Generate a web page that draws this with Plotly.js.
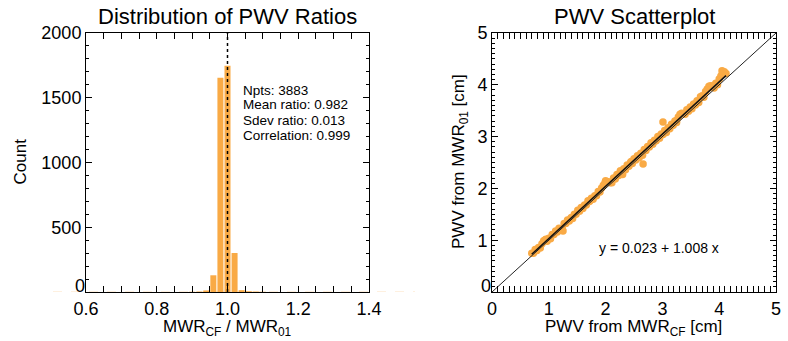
<!DOCTYPE html>
<html>
<head>
<meta charset="utf-8">
<script src="https://cdn.plot.ly/plotly-3.0.1.min.js"></script>
<style>html,body{margin:0;padding:0;background:#fff;}#chart{width:788px;height:341px;}</style>
</head>
<body>
<div id="chart"></div>
<script>
// Histogram of PWV ratios (bin centres and counts)
const ratioBins = [0.90, 0.92, 0.94, 0.96, 0.98, 1.00, 1.02, 1.04, 1.06, 1.08, 1.10];
const ratioCounts = [2, 3, 12, 129, 1654, 1747, 301, 14, 6, 3, 2];
const statsLines = ["Npts: 3883", "Mean ratio: 0.982", "Sdev ratio: 0.013", "Correlation: 0.999"];
const meanLineAt = 1.0;
const countTicks = [0, 500, 1000, 1500, 2000];
const pwvTicks = [0, 1, 2, 3, 4, 5];

// Scatter of PWV values [cm]
const pwvCF = [0.70,0.73,0.76,0.79,0.82,0.85,0.88,0.91,0.94,0.97,1.00,1.03,1.06,1.09,1.12,1.15,1.18,1.21,1.24,1.27,
  1.30,1.33,1.36,1.39,1.42,1.45,1.48,1.51,1.54,1.57,1.60,1.63,1.66,1.69,1.72,1.75,1.78,1.81,1.84,1.87,
  1.90,1.93,1.96,1.99,2.02,2.05,2.08,2.11,2.14,2.17,2.20,2.23,2.26,2.29,2.32,2.35,2.38,2.41,2.44,2.47,
  2.50,2.53,2.56,2.59,2.62,2.65,2.68,2.71,2.74,2.77,2.80,2.83,2.86,2.89,2.92,2.95,2.98,3.01,3.04,3.07,
  3.10,3.13,3.16,3.19,3.22,3.25,3.28,3.31,3.34,3.37,3.40,3.43,3.46,3.49,3.52,3.55,3.58,3.61,3.64,3.67,
  3.70,3.73,3.76,3.79,3.82,3.85,3.88,3.91,3.94,3.97,4.00,4.03,4.06,4.09,4.12,
  3.01,2.66,2.00,1.25,4.05,2.30,0.95,1.70,2.45,3.55,0.78,1.40,2.85,3.25,3.90];
const pwvMWR01 = [0.75,0.75,0.82,0.80,0.86,0.85,0.93,0.99,1.01,0.98,1.04,1.03,1.11,1.11,1.18,1.16,1.23,1.20,1.21,1.32,
  1.32,1.39,1.37,1.43,1.42,1.50,1.50,1.58,1.56,1.63,1.61,1.68,1.68,1.76,1.75,1.81,1.79,1.86,1.86,1.94,
  1.93,2.01,2.06,2.11,2.13,2.13,2.11,2.11,2.20,2.18,2.27,2.25,2.34,2.32,2.38,2.36,2.45,2.43,2.50,2.48,
  2.57,2.55,2.63,2.59,2.68,2.64,2.75,2.73,2.81,2.80,2.88,2.85,2.93,2.92,3.00,2.97,3.05,3.04,3.12,3.08,
  3.17,3.15,3.24,3.22,3.30,3.27,3.38,3.43,3.45,3.44,3.43,3.52,3.49,3.57,3.54,3.62,3.61,3.69,3.66,3.77,
  3.79,3.76,3.87,3.92,3.97,3.98,3.96,3.94,4.03,4.00,4.11,4.17,4.24,4.25,4.22,
  3.28,2.47,2.15,1.18,4.27,2.27,1.02,1.74,2.52,3.63,0.80,1.44,2.90,3.31,3.98];
const fitIntercept = 0.023;
const fitSlope = 1.008;
const oneToOne = [0, 5];

const orange = '#F9AA45';
const fnt = 'Liberation Sans, Arial, Helvetica, sans-serif';

const fitX = [Math.min(...pwvCF.slice(0, 115)), Math.max(...pwvCF)];
const fitY = fitX.map(v => fitIntercept + fitSlope * v);

const traces = [
  {type:'bar', x: ratioBins, y: ratioCounts, width: 0.017, marker:{color: orange, line:{width:0}},
   xaxis:'x', yaxis:'y'},
  {type:'scatter', mode:'markers', x: [], y: [], xaxis:'x', yaxis:'y3'},
  {type:'scatter', mode:'markers', x: [], y: [], xaxis:'x2', yaxis:'y4'},
  {type:'scatter', mode:'markers', x: pwvCF, y: pwvMWR01, marker:{color: orange, size:7.5},
   xaxis:'x2', yaxis:'y2'},
  {type:'scatter', mode:'lines', x: oneToOne, y: oneToOne, line:{color:'#222', width:1},
   xaxis:'x2', yaxis:'y2'},
  {type:'scatter', mode:'lines', x: fitX, y: fitY, line:{color:'#111', width:1.6},
   xaxis:'x2', yaxis:'y2'}
];

const axBase = {
  showline:true, linecolor:'#000', linewidth:1, mirror:'allticks',
  ticks:'inside', ticklen:6, tickwidth:1, tickcolor:'#000',
  showgrid:false, zeroline:false, fixedrange:true,
  tickfont:{family: fnt, size:18, color:'#000'}
};
const zeroLabelAxis = (over, anchor, rng) => ({
  domain:yDom, range:rng, overlaying:over, anchor:anchor, side:'left',
  tickmode:'array', tickvals:[0], ticktext:['0'], ticks:'', showline:false, showgrid:false,
  zeroline:false, fixedrange:true, ticklabelshift:-6,
  tickfont:{family: fnt, size:18, color:'#000'}
});

const W = 788, H = 341;
const px = v => v / W, py = v => (H - v) / H;
const yDom = [py(292), py(33)];

const statAnns = statsLines.map((t, i) => ({
  text: t, xref:'paper', yref:'paper', x:px(241), y:py(90 + 15 * i),
  xanchor:'left', yanchor:'middle', align:'left', showarrow:false, font:{size:13.5}
}));

const layout = {
  width: W, height: H,
  margin:{l:0, r:0, t:0, b:0},
  paper_bgcolor:'#fff', plot_bgcolor:'#fff',
  showlegend:false,
  font:{family: fnt, color:'#000'},
  xaxis: Object.assign({}, axBase, {domain:[px(86), px(369)], range:[0.6, 1.4], dtick:0.2, tick0:0.6,
    tickformat:'.1f', minor:{dtick:0.05, tick0:0.6, ticks:'inside', ticklen:3, tickcolor:'#000'}, anchor:'y'}),
  yaxis: Object.assign({}, axBase, {domain:yDom, range:[0, 2000], tickmode:'array',
    tickvals: countTicks, ticktext: countTicks.map(v => v === 0 ? '' : String(v)),
    minor:{tickmode:'linear', dtick:100, tick0:0, ticks:'inside', ticklen:3, tickcolor:'#000'}, anchor:'x'}),
  yaxis3: zeroLabelAxis('y', 'x', [0, 2000]),
  xaxis2: Object.assign({}, axBase, {domain:[px(492), px(776)], range:[0, 5], dtick:1,
    minor:{dtick:0.1, ticks:'inside', ticklen:3, tickcolor:'#000'}, anchor:'y2'}),
  yaxis2: Object.assign({}, axBase, {domain:yDom, range:[0, 5], tickmode:'array',
    tickvals: pwvTicks, ticktext: pwvTicks.map(v => v === 0 ? '' : String(v)),
    minor:{tickmode:'linear', dtick:0.1, tick0:0, ticks:'inside', ticklen:3, tickcolor:'#000'}, anchor:'x2'}),
  yaxis4: zeroLabelAxis('y2', 'x2', [0, 5]),
  shapes:[
    {type:'line', xref:'x', yref:'y domain', x0:meanLineAt, x1:meanLineAt, y0:0, y1:1,
     line:{color:'#000', width:1.5, dash:'dot'}},
    {type:'line', xref:'paper', yref:'y', x0:px(53), x1:px(415), y0:0, y1:0, layer:'below',
     line:{color:'rgba(249,170,69,0.35)', width:1, dash:'dash'}}
  ],
  annotations:[
    {text:'Distribution of PWV Ratios', xref:'paper', yref:'paper', x:px(227.5), y:py(17),
     xanchor:'center', yanchor:'middle', showarrow:false, font:{size:22}},
    {text:'PWV Scatterplot', xref:'paper', yref:'paper', x:px(634), y:py(17),
     xanchor:'center', yanchor:'middle', showarrow:false, font:{size:22}},
    {text:'MWR<sub>CF</sub> / MWR<sub>01</sub>', xref:'paper', yref:'paper', x:px(227), y:py(328),
     xanchor:'center', yanchor:'middle', showarrow:false, font:{size:17}},
    {text:'PWV from MWR<sub>CF</sub> [cm]', xref:'paper', yref:'paper', x:px(633), y:py(328),
     xanchor:'center', yanchor:'middle', showarrow:false, font:{size:17}},
    {text:'Count', xref:'paper', yref:'paper', x:px(19.5), y:py(162), textangle:-90,
     xanchor:'center', yanchor:'middle', showarrow:false, font:{size:17}},
    {text:'PWV from MWR<sub>01</sub> [cm]', xref:'paper', yref:'paper', x:px(460), y:py(162), textangle:-90,
     xanchor:'center', yanchor:'middle', showarrow:false, font:{size:17}},
    ...statAnns,
    {text:'y = ' + fitIntercept.toFixed(3) + ' + ' + fitSlope.toFixed(3) + ' x', xref:'paper', yref:'paper',
     x:px(659), y:py(248), xanchor:'center', yanchor:'middle', showarrow:false, font:{size:14}}
  ]
};

Plotly.newPlot('chart', traces, layout, {displayModeBar:false, staticPlot:true});
</script>
</body>
</html>
